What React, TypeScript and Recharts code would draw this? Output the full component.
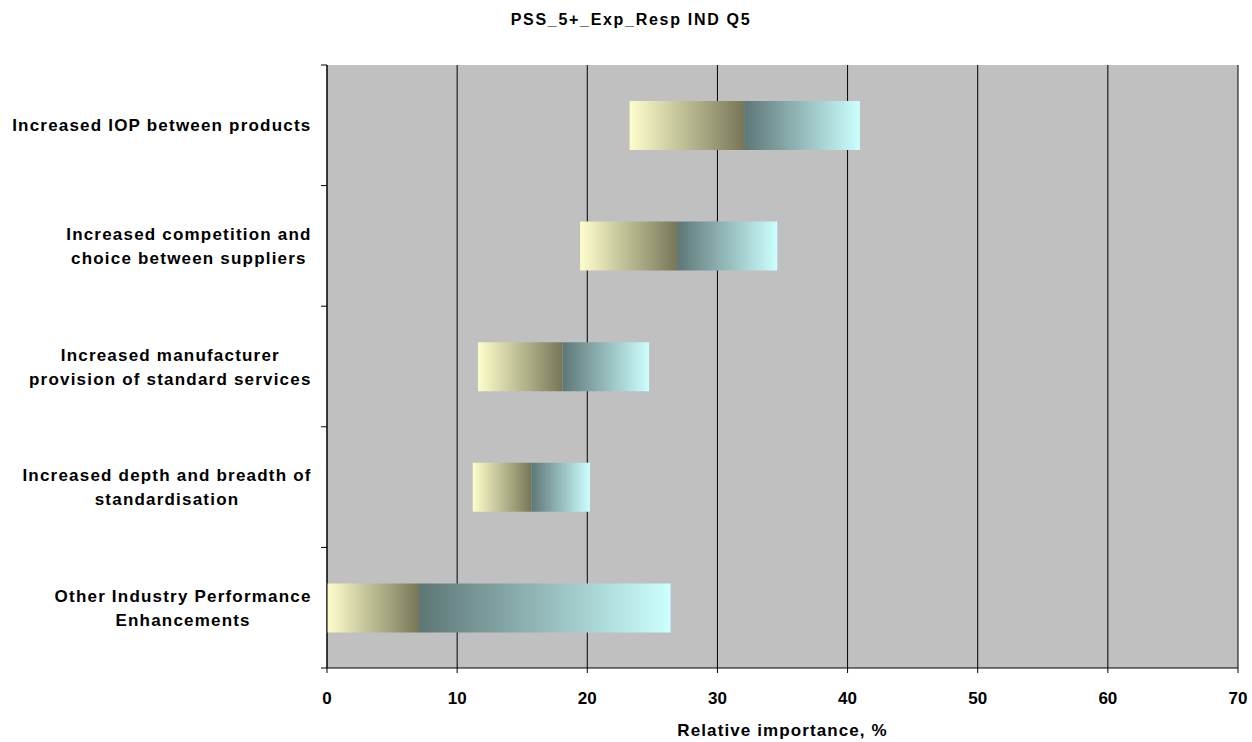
import React from 'react';
import { BarChart, Bar, XAxis, YAxis, CartesianGrid } from 'recharts';

const title = 'PSS_5+_Exp_Resp IND Q5';
const axisTitle = 'Relative importance, %';
const categories = [
  'Increased IOP between products',
  'Increased competition and\nchoice between suppliers',
  'Increased manufacturer\nprovision of standard services',
  'Increased depth and breadth of\nstandardisation',
  'Other Industry Performance\nEnhancements',
];
const starts = [23.25, 19.45, 11.6, 11.2, 0];
const mids = [32.05, 26.9, 18.1, 15.7, 7.07];
const ends = [40.95, 34.6, 24.75, 20.2, 26.4];
const xTicks = [0, 10, 20, 30, 40, 50, 60, 70];

const W = 1252;
const H = 742;
const M = { top: 65, right: 14, bottom: 0, left: 0 };
const Y_AXIS_W = 327;
const X_AXIS_H = 74;
const PLOT_H = H - M.top - M.bottom - X_AXIS_H;
const BAND = PLOT_H / categories.length;
const FONT = "'Liberation Sans', Arial, sans-serif";
const LABEL_SIZE = 17;
const LABEL_LS = 1.2;

const data = categories.map((name, i) => ({
  name,
  offset: starts[i],
  low: mids[i] - starts[i],
  high: ends[i] - mids[i],
}));

let ctx: CanvasRenderingContext2D | null = null;
function measure(t: string): number {
  if (!ctx) ctx = document.createElement('canvas').getContext('2d');
  if (!ctx) return t.length * 10;
  ctx.font = `bold ${LABEL_SIZE}px ${FONT}`;
  return ctx.measureText(t).width + LABEL_LS * (t.length - 1);
}

const YTick = (props: any) => {
  const { y, payload, index } = props;
  const axisX = M.left + Y_AXIS_W;
  const lines = String(payload.value).split('\n');
  const maxW = Math.max(...lines.map(measure));
  const cx = axisX - 16 - maxW / 2;
  const lh = 24;
  const y0 = y - ((lines.length - 1) * lh) / 2;
  return (
    <g>
      <line x1={axisX - 6} x2={axisX} y1={y - BAND / 2} y2={y - BAND / 2} stroke="#000" />
      {index === categories.length - 1 && (
        <line x1={axisX - 6} x2={axisX} y1={y + BAND / 2} y2={y + BAND / 2} stroke="#000" />
      )}
      <text
        x={cx}
        y={y0}
        textAnchor="middle"
        dominantBaseline="central"
        fontFamily={FONT}
        fontWeight="bold"
        fontSize={LABEL_SIZE}
        letterSpacing={LABEL_LS}
        fill="#000"
      >
        {lines.map((l, i) => (
          <tspan key={i} x={cx} y={y0 + i * lh} dominantBaseline="central">
            {l}
          </tspan>
        ))}
      </text>
    </g>
  );
};

export default function App() {
  return (
    <div style={{ position: 'absolute', left: 0, top: 0, width: W, height: H, background: '#fff' }}>
      <div
        style={{
          position: 'absolute',
          left: 0,
          top: 11,
          width: 1262,
          textAlign: 'center',
          fontFamily: FONT,
          fontWeight: 'bold',
          fontSize: 16,
          letterSpacing: 1.7,
          color: '#000',
        }}
      >
        {title}
      </div>
      <BarChart width={W} height={H} data={data} layout="vertical" margin={M} barCategoryGap={0}>
        <defs>
          <linearGradient id="gLow" x1="0" y1="0" x2="1" y2="0">
            <stop offset="0%" stopColor="#FEFECC" />
            <stop offset="100%" stopColor="#777758" />
          </linearGradient>
          <linearGradient id="gHigh" x1="0" y1="0" x2="1" y2="0">
            <stop offset="0%" stopColor="#5E7676" />
            <stop offset="100%" stopColor="#CCFFFF" />
          </linearGradient>
        </defs>
        <CartesianGrid horizontal={false} stroke="#000" fill="#C0C0C0" fillOpacity={1} />
        <XAxis
          type="number"
          domain={[0, 70]}
          ticks={xTicks}
          interval={0}
          height={X_AXIS_H}
          axisLine={{ stroke: '#000' }}
          tickLine={{ stroke: '#000' }}
          tickSize={5}
          tickMargin={19}
          tick={{ fontFamily: FONT, fontWeight: 'bold', fontSize: 17, fill: '#000' }}
          label={{
            value: axisTitle,
            position: 'insideBottom',
            offset: 6,
            style: { fontFamily: FONT, fontWeight: 'bold', fontSize: 17, letterSpacing: 1.1, fill: '#000' },
          }}
        />
        <XAxis
          xAxisId="top"
          orientation="top"
          type="number"
          domain={[0, 70]}
          height={0}
          tick={false}
          tickLine={false}
          axisLine={{ stroke: '#808080', strokeWidth: 2 }}
        />
        <YAxis
          type="category"
          dataKey="name"
          width={Y_AXIS_W}
          axisLine={{ stroke: '#000' }}
          tickLine={false}
          interval={0}
          tick={<YTick />}
        />
        <YAxis
          yAxisId="right"
          orientation="right"
          type="category"
          dataKey="name"
          width={0}
          tick={false}
          tickLine={false}
          axisLine={{ stroke: '#808080', strokeWidth: 2 }}
        />
        <Bar dataKey="offset" stackId="s" fill="transparent" barSize={49} isAnimationActive={false} />
        <Bar dataKey="low" stackId="s" fill="url(#gLow)" barSize={49} isAnimationActive={false} />
        <Bar dataKey="high" stackId="s" fill="url(#gHigh)" barSize={49} isAnimationActive={false} />
      </BarChart>
    </div>
  );
}
